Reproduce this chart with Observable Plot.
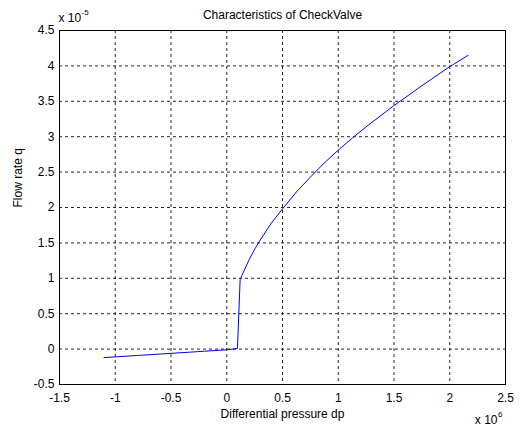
<!DOCTYPE html>
<html><head><meta charset="utf-8">
<script src="https://cdn.jsdelivr.net/npm/d3@7"></script>
<script src="https://cdn.jsdelivr.net/npm/@observablehq/plot@0.6"></script>
<style>body{margin:0;background:#fff}</style>
</head><body><div id="chart"></div>
<script>
// Differential pressure dp (x 10^6)
const dp = [-1.1, -0.8, -0.5, -0.2, 0, 0.096, 0.12, 0.15, 0.2, 0.25, 0.3, 0.4, 0.5, 0.625, 0.75, 0.875, 1.0, 1.125, 1.25, 1.5, 1.75, 2.0, 2.165];
// Flow rate q (x 10^-5)
const q  = [-0.12, -0.09, -0.06, -0.03, -0.01, 0.01, 0.98, 1.09, 1.26, 1.41, 1.54, 1.78, 1.98, 2.22, 2.43, 2.63, 2.81, 2.98, 3.14, 3.44, 3.72, 3.99, 4.15];
const xTicks = [-1.5, -1, -0.5, 0, 0.5, 1, 1.5, 2, 2.5];
const yTicks = [-0.5, 0, 0.5, 1, 1.5, 2, 2.5, 3, 3.5, 4, 4.5];
const title = "Characteristics of CheckValve";
const xLabel = "Differential pressure dp";
const yLabel = "Flow rate q";
const xExp = "6";
const yExp = "-5";

const data = dp.map((d, i) => ({dp: d, q: q[i]}));
const fmt = d => String(d);
const font = "'Liberation Sans', Arial, sans-serif";

const chart = Plot.plot({
  width: 520, height: 432,
  marginLeft: 59, marginRight: 15, marginTop: 30, marginBottom: 48,
  style: {fontFamily: font, fontSize: "12px", background: "#fff", color: "#000"},
  x: {domain: [-1.5, 2.5], label: null},
  y: {domain: [-0.5, 4.5], label: null},
  marks: [
    Plot.gridX(xTicks, {stroke: "#000", strokeOpacity: 0.85, strokeDasharray: "3,3"}),
    Plot.gridY(yTicks, {stroke: "#000", strokeOpacity: 0.85, strokeDasharray: "3,3"}),
    Plot.frame({stroke: "#000", strokeWidth: 1}),
    Plot.axisX(xTicks, {tickSize: 0, tickPadding: 9, tickFormat: fmt, fill: "#000", fontSize: 12, label: null}),
    Plot.axisY(yTicks, {tickSize: 0, tickPadding: 5, tickFormat: fmt, fill: "#000", fontSize: 12, label: null}),
    Plot.line(data, {x: "dp", y: "q", stroke: "#0000ff", strokeWidth: 1}),
    Plot.text([title], {frameAnchor: "top", dy: -15, lineAnchor: "middle", fontSize: 12, fill: "#000"}),
    Plot.text([xLabel], {frameAnchor: "bottom", dy: 30, lineAnchor: "middle", fontSize: 12, fill: "#000"}),
    Plot.text([yLabel], {frameAnchor: "left", dx: -41, rotate: -90, lineAnchor: "middle", fontSize: 12, fill: "#000"}),
    Plot.text(["x 10"], {frameAnchor: "top-left", textAnchor: "start", lineAnchor: "middle", dx: -1, dy: -12, fontSize: 12, fill: "#000"}),
    Plot.text([yExp], {frameAnchor: "top-left", textAnchor: "start", lineAnchor: "middle", dx: 22, dy: -18, fontSize: 8, fill: "#000"}),
    Plot.text(["x 10"], {frameAnchor: "bottom-right", textAnchor: "end", lineAnchor: "middle", dx: -8, dy: 36, fontSize: 12, fill: "#000"}),
    Plot.text([xExp], {frameAnchor: "bottom-right", textAnchor: "end", lineAnchor: "middle", dx: -3, dy: 30, fontSize: 8, fill: "#000"})
  ]
});
document.getElementById("chart").appendChild(chart);
</script>
</body></html>
